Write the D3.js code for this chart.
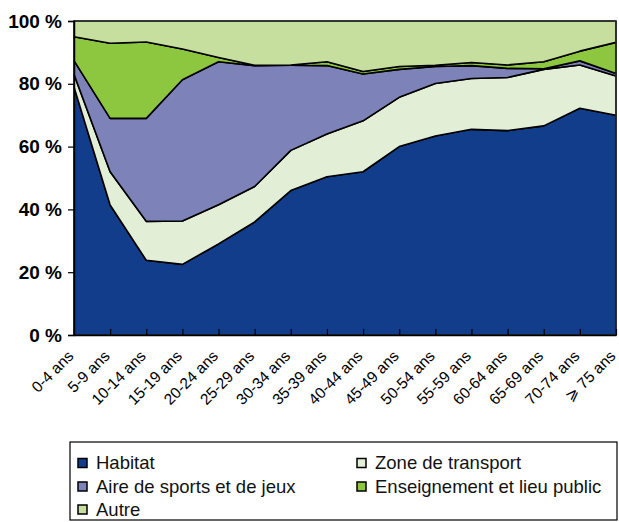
<!DOCTYPE html>
<html>
<head>
<meta charset="utf-8">
<script src="https://cdn.jsdelivr.net/npm/d3@7"></script>
<style>
  body { margin: 0; background: #fff; }
  svg { display: block; font-family: "Liberation Sans", Arial, sans-serif; }
</style>
</head>
<body>
<div id="chart"></div>
<script>
// age groups
var categories = ["0-4 ans", "5-9 ans", "10-14 ans", "15-19 ans", "20-24 ans", "25-29 ans",
  "30-34 ans", "35-39 ans", "40-44 ans", "45-49 ans", "50-54 ans", "55-59 ans",
  "60-64 ans", "65-69 ans", "70-74 ans", "\u2A7E 75 ans"];

// shares in %
var habitat    = [79, 41.4, 23.8, 22.5, 29, 36, 46, 50.4, 52, 60, 63.4, 65.5, 65.1, 66.6, 72.2, 70];
var transport  = [4, 10.6, 12.4, 13.8, 12.5, 11.3, 12.8, 13.6, 16.2, 15.7, 16.7, 16.2, 16.9, 18, 13.8, 12.5];
var sports     = [4.4, 17, 32.8, 45, 45.5, 38.5, 27.1, 21.8, 14.9, 8.9, 5.4, 4.1, 2.9, 0.2, 1.3, 0.8];
var ecole      = [7.6, 23.9, 24.3, 9.8, 1.4, 0.1, 0.1, 1.2, 0.8, 0.9, 0.4, 1.0, 1.1, 2.2, 3.1, 9.9];
var autre      = [5, 7.1, 6.7, 8.9, 11.6, 14.1, 14, 13, 16.1, 14.5, 14.1, 13.2, 14, 13, 9.6, 6.8];

var seriesNames = ["Habitat", "Zone de transport", "Aire de sports et de jeux",
  "Enseignement et lieu public", "Autre"];
var yTicks = [0, 20, 40, 60, 80, 100];

var colors = ["#123d8a", "#e2efd6", "#7d83b8", "#8dc63f", "#c6df9f"];

var w = 619, h = 522;
var svg = d3.select("#chart").append("svg").attr("width", w).attr("height", h);

var table = categories.map(function(c, i) {
  return { cat: c, s0: habitat[i], s1: transport[i], s2: sports[i], s3: ecole[i], s4: autre[i] };
});
var keys = ["s0", "s1", "s2", "s3", "s4"];
var stacked = d3.stack().keys(keys)(table);

var x = d3.scalePoint().domain(categories).range([74, 616]);
var y = d3.scaleLinear().domain([0, 100]).range([335, 21]);

var area = d3.area()
  .x(function(d) { return x(d.data.cat); })
  .y0(function(d) { return y(d[0]); })
  .y1(function(d) { return y(d[1]); });

svg.append("g").selectAll("path").data(stacked).enter().append("path")
  .attr("d", area)
  .attr("fill", function(d, i) { return colors[i]; })
  .attr("stroke", "#000")
  .attr("stroke-width", 1.6)
  .attr("stroke-linejoin", "round");

// frame on top/right
svg.append("rect").attr("x", 74).attr("y", 21).attr("width", 542).attr("height", 314)
  .attr("fill", "none").attr("stroke", "#333").attr("stroke-width", 1.2);

// y axis
var yAxis = svg.append("g").attr("transform", "translate(74,0)")
  .call(d3.axisLeft(y).tickValues(yTicks).tickSize(6).tickPadding(6)
    .tickFormat(function(d) { return d + " %"; }));
yAxis.select(".domain").attr("stroke-width", 1.5);
yAxis.selectAll("line").attr("stroke-width", 1.2);
yAxis.selectAll("text").attr("font-size", 19).attr("font-weight", "bold")
  .attr("font-family", "Liberation Sans, Arial, sans-serif").attr("fill", "#000");

// x axis, ticks inside
var xAxis = svg.append("g").attr("transform", "translate(0,335)")
  .call(d3.axisBottom(x).tickSize(-6).tickSizeOuter(0));
xAxis.select(".domain").attr("stroke-width", 1.5);
xAxis.selectAll("line").attr("stroke-width", 1.2);
xAxis.selectAll("text")
  .attr("font-size", 15.5)
  .attr("font-family", "Liberation Sans, Arial, sans-serif")
  .attr("fill", "#000")
  .attr("text-anchor", "end")
  .attr("dy", 0).attr("y", 0)
  .attr("transform", "translate(0,22) rotate(-45)");

// legend
var lg = svg.append("g");
lg.append("rect").attr("x", 70).attr("y", 442).attr("width", 547).attr("height", 78)
  .attr("fill", "#fff").attr("stroke", "#000").attr("stroke-width", 1.2);

var legendPos = [[78, 463], [357, 463], [78, 486.5], [357, 486.5], [78, 509.5]];
seriesNames.forEach(function(name, i) {
  var p = legendPos[i];
  lg.append("rect").attr("x", p[0]).attr("y", p[1] - 4.5).attr("width", 9).attr("height", 9)
    .attr("fill", colors[i]).attr("stroke", "#000").attr("stroke-width", 1.5);
  lg.append("text").attr("x", p[0] + 18).attr("y", p[1] + 6)
    .attr("font-size", 18.5).attr("fill", "#111").text(name);
});
</script>
</body>
</html>
